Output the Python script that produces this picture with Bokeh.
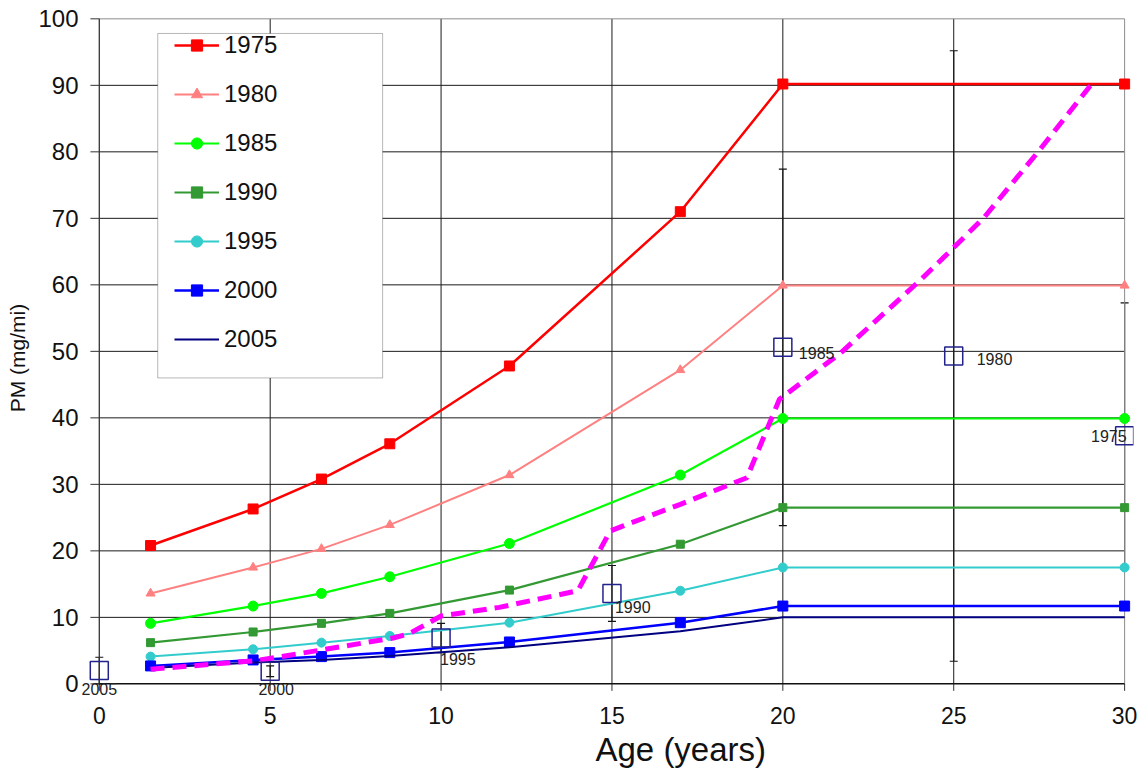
from bokeh.plotting import figure
from bokeh.models import (ColumnDataSource, FixedTicker, Whisker, TeeHead,
                          LabelSet, BoxAnnotation, Range1d, Title)
from bokeh.core.properties import value
from bokeh.embed import file_html
from bokeh.resources import INLINE

# ---------------- data ----------------
age = [1.5, 4.5, 6.5, 8.5, 12, 17, 20, 30]
pm_1975 = [20.8, 26.3, 30.8, 36.1, 47.8, 71.0, 90.2, 90.2]
pm_1980 = [13.6, 17.5, 20.3, 23.9, 31.4, 47.2, 59.9, 59.9]
pm_1985 = [9.1, 11.7, 13.6, 16.1, 21.1, 31.4, 39.9, 39.9]
pm_1990 = [6.2, 7.8, 9.1, 10.6, 14.1, 21.0, 26.5, 26.5]
pm_1995 = [4.1, 5.2, 6.2, 7.2, 9.2, 14.0, 17.5, 17.5]
pm_2000 = [2.7, 3.6, 4.1, 4.7, 6.3, 9.2, 11.7, 11.7]
pm_2005 = [2.4, 3.2, 3.6, 4.2, 5.5, 7.9, 10.0, 10.0]

series_names = ["1975", "1980", "1985", "1990", "1995", "2000", "2005"]

fleet_age = [1.5, 4.6, 6.5, 8.6, 9.05, 10.0, 11.7, 14.0, 14.95, 15.35, 17.0,
             18.95, 19.9, 21.7, 24.0, 25.0, 25.9, 27.5, 29.05]
fleet_pm = [2.2, 3.5, 5.1, 6.9, 7.5, 10.2, 11.5, 14.0, 23.0, 23.8, 27.0,
            31.0, 42.8, 49.8, 60.6, 65.6, 70.2, 80.2, 90.3]

obs_age = [0, 5, 10, 15, 20, 25, 30]
obs_pm = [2.0, 1.9, 6.9, 13.6, 50.6, 49.3, 37.3]
obs_err = [2.0, 0.8, 2.2, 4.2, 26.8, 45.9, 20.0]
obs_label = ["2005", "2000", "1995", "1990", "1985", "1980", "1975"]

x_ticks = [0, 5, 10, 15, 20, 25, 30]
y_ticks = [0, 10, 20, 30, 40, 50, 60, 70, 80, 90, 100]

# ---------------- figure ----------------
X0, X1 = -0.55, 30.26       # margin so edge markers/labels are not clipped
Y0, Y1 = -2.2, 100.2
TICK_X = -0.26              # length of the y-axis ticks, in x units
TICK_Y = -1.05              # length of the x-axis ticks, in y units
p = figure(frame_width=1053, frame_height=681, title=None,
           x_range=Range1d(X0, X1), y_range=Range1d(Y0, Y1),
           output_backend="svg", toolbar_location=None,
           min_border_left=80, min_border_right=4, min_border_top=17,
           min_border_bottom=60)
p.outline_line_color = None
p.xgrid.visible = False
p.ygrid.visible = False
p.background_fill_color = "white"
p.border_fill_color = "white"

# axes: only labels, lines/ticks drawn below as segments
xa = p.xaxis[0]
xa.ticker = FixedTicker(ticks=x_ticks)
xa.axis_line_color = None
xa.major_tick_line_color = None
xa.minor_tick_line_color = None
xa.major_tick_out = 0
xa.major_tick_in = 0
xa.major_label_text_font = "Liberation Sans"
xa.major_label_text_font_size = "23px"
xa.major_label_text_color = "#111111"
xa.major_label_standoff = 8

ya = p.yaxis[0]
ya.ticker = FixedTicker(ticks=y_ticks)
ya.axis_line_color = None
ya.major_tick_line_color = None
ya.minor_tick_line_color = None
ya.major_tick_out = 0
ya.major_tick_in = 0
ya.major_label_text_font = "Liberation Sans"
ya.major_label_text_font_size = "24px"
ya.major_label_text_color = "#111111"
ya.major_label_standoff = 2
ya.axis_label = "PM (mg/mi)"
ya.axis_label_text_font = "Liberation Sans"
ya.axis_label_text_font_size = "21px"
ya.axis_label_text_font_style = "normal"
ya.axis_label_text_color = "#111111"
ya.axis_label_standoff = 6

p.add_layout(Title(text="Age (years)", align="left", offset=515,
                   text_font="Liberation Sans", text_font_size="33px",
                   text_font_style="normal", text_color="#111111",
                   standoff=4), "below")

# gridlines, borders, axis lines and ticks
hy = y_ticks[1:-1]
n = len(hy)
p.segment(x0=[x_ticks[0]] * n, x1=[x_ticks[-1]] * n, y0=hy, y1=hy,
          line_color="#1a1a1a", line_width=1)
vx = x_ticks[1:-1]
m = len(vx)
p.segment(x0=vx, x1=vx, y0=[y_ticks[0]] * m, y1=[y_ticks[-1]] * m,
          line_color="#1a1a1a", line_width=1)
p.segment(x0=[x_ticks[0]], x1=[x_ticks[-1]], y0=[y_ticks[-1]], y1=[y_ticks[-1]],
          line_color="#8c8c8c", line_width=1)
p.segment(x0=[x_ticks[-1]], x1=[x_ticks[-1]], y0=[y_ticks[0]], y1=[y_ticks[-1]],
          line_color="#8c8c8c", line_width=1)
# y ticks (left of the axis) and x ticks (below the axis)
p.segment(x0=[TICK_X] * len(y_ticks), x1=[0] * len(y_ticks), y0=y_ticks, y1=y_ticks,
          line_color="#333333", line_width=1)
p.segment(x0=x_ticks, x1=x_ticks, y0=[TICK_Y] * len(x_ticks), y1=[0] * len(x_ticks),
          line_color="#333333", line_width=1)
# axis lines
p.segment(x0=[x_ticks[0]], x1=[x_ticks[0]], y0=[y_ticks[0]], y1=[y_ticks[-1]],
          line_color="#333333", line_width=1.3)
p.segment(x0=[x_ticks[0]], x1=[x_ticks[-1]], y0=[y_ticks[0]], y1=[y_ticks[0]],
          line_color="#111111", line_width=1.5)

# legend box (drawn before legend so the legend sits on top)
box = BoxAnnotation(left=1.71, right=8.29, top=97.8, bottom=46.0,
                    fill_color="white", fill_alpha=1.0,
                    line_color="#111111", line_width=1)
p.add_layout(box)

# series
styles = [
    (pm_1975, "#FF0000", "square", 10, 2.5),
    (pm_1980, "#FF8080", "triangle", 9, 2),
    (pm_1985, "#00FF00", "circle", 10, 2.2),
    (pm_1990, "#339933", "square", 8, 2.2),
    (pm_1995, "#33CCCC", "circle", 9, 2),
    (pm_2000, "#0000FF", "square", 10, 2.5),
    (pm_2005, "#000080", None, 0, 2),
]
for name, (vals, col, mk, sz, lw) in zip(series_names, styles):
    p.line(age, vals, line_color=col, line_width=lw, legend_label=name)
    if mk is not None:
        p.scatter(age, vals, marker=mk, size=sz, fill_color=col, line_color=col,
                  legend_label=name)

# fleet-average dashed line
p.line(fleet_age, fleet_pm, line_color="#FF00FF", line_width=5, line_dash="14 8")

# observed points with error bars
obs_src = ColumnDataSource(dict(
    x=obs_age, y=obs_pm, text=obs_label,
    lower=[v - e for v, e in zip(obs_pm, obs_err)],
    upper=[v + e for v, e in zip(obs_pm, obs_err)],
    dx=[0, 6, -1, 3, 16, 23, 2],
    dy=[-12, -12, -15, -8, 0, 3, 6],
    align=["center", "center", "left", "left", "left", "left", "right"],
))
p.add_layout(Whisker(source=obs_src, base="x", lower="lower", upper="upper",
                     line_color="#111111", line_width=1.2,
                     upper_head=TeeHead(size=8, line_color="#111111", line_width=1.2),
                     lower_head=TeeHead(size=8, line_color="#111111", line_width=1.2)))
p.scatter("x", "y", source=obs_src, marker="square", size=18, fill_color=None,
          line_color="#22228c", line_width=1.5)
p.add_layout(LabelSet(x="x", y="y", text="text", source=obs_src,
                      x_offset="dx", y_offset="dy", text_align="align",
                      text_baseline="top", text_font=value("Liberation Sans"),
                      text_font_size=value("16px"), text_color="#222222"))

# legend
lg = p.legend[0]
lg.location = (94, 345)
lg.padding = 0
lg.margin = 0
lg.spacing = 21
lg.glyph_width = 45
lg.glyph_height = 28
lg.label_height = 28
lg.label_standoff = 5
lg.label_text_font = "Liberation Sans"
lg.label_text_font_size = "24px"
lg.label_text_color = "#111111"
lg.border_line_color = None
lg.background_fill_alpha = 0

open("out.html", "w").write(file_html(p, INLINE))
